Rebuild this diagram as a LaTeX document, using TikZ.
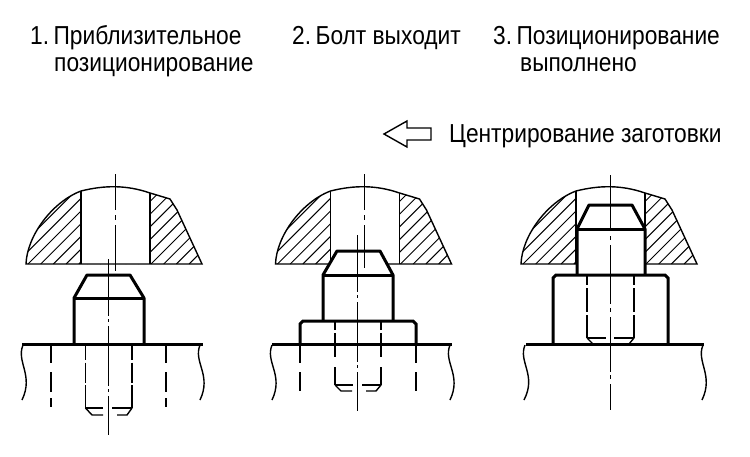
\documentclass[tikz,border=0pt]{standalone}
\usepackage{fontspec}
\setmainfont[FakeStretch=0.875]{Liberation Sans}
\tikzset{
  label text/.style={anchor=base west, inner sep=0pt, font=\fontsize{26}{28}\selectfont},
  thin line/.style={line width=1.4pt},
  thick line/.style={line width=3pt},
  hatch line/.style={line width=1pt},
  outer hidden/.style={line width=1.5pt, dash pattern=on 18pt off 9pt on 20pt off 6pt on 9pt off 100pt},
  axis line/.style={line width=1.4pt},
}
\begin{document}
\begin{tikzpicture}[x=1pt, y=-1pt]
        \useasboundingbox (0,0) rectangle (750,456);

        % Texts
        \node[label text] (stepa) at (30,44) {1.\hspace{-4pt} Приблизительное};
        \node[label text] (stepb) at (54,71) {позиционирование};
        \node[label text] (stepc) at (292,44) {2.\hspace{-4pt} Болт выходит};
        \node[label text] (stepd) at (493,44) {3.\hspace{-4pt} Позиционирование};
        \node[label text] (stepe) at (520,71) {выполнено};
        \node[label text] (centering) at (449,142) {Центрирование заготовки};

        % Hollow arrow
        \draw[thin line] (384,134) -- (407,121) -- (407,128) -- (431,128) -- (431,140) -- (407,140) -- (407,147) -- cycle;

        % Domes with hatching
        \foreach \shift in {0,249.5,495} {
            \begin{scope}[xshift=\shift pt]
                \begin{scope}
                    \clip (26,264) .. controls (27,236) and (52,202) .. (81,191) .. controls (105,185) and (127,185) .. (150,193) -- (170,199) -- (177,210) -- (202,264) -- cycle;
                    \foreach \hx in {2.6,15.3,...,80,87.5,100.2,...,190}
                        \draw[hatch line] (\hx,264) -- (\hx+90,174);
                    \fill[white] (81,180) rectangle (150,264);
                \end{scope}
                \draw[thin line] (26,264) .. controls (27,236) and (52,202) .. (81,191) .. controls (105,185) and (127,185) .. (150,193) -- (170,199) -- (177,210) -- (202,264) -- cycle;
                \draw[thin line] (81,191) -- (81,264);
                \draw[thin line] (150,193) -- (150,264);
            \end{scope}
        }

        % Left: bolt below the bore
        \draw[outer hidden] (51,345) -- (51,407);
        \draw[outer hidden] (166,345) -- (166,407);
        \draw[thin line, dash pattern=on 15pt off 2.5pt on 20pt off 2.5pt on 23pt off 100pt] (85.5,345) -- (85.5,408);
        \draw[thin line, dash pattern=on 15pt off 2.5pt on 20pt off 2.5pt on 23pt off 100pt] (132,345) -- (132,408);
        \draw[thin line] (85.5,408) -- (92,415) -- (103,415) (117,415) -- (127,415) -- (132,408);
        \draw[thin line] (85.5,408) -- (103,408) (112,408) -- (132,408);
        \draw[thick line, line join=round, fill=white] (74,344) -- (74,298) -- (87,275) -- (130,275) -- (144,298) -- (144,344);
        \draw[thick line] (74,298) -- (144,298);
        \draw[thick line] (22,344) -- (203,344);
        \draw[axis line] (23,345) .. controls (16,362) and (34,375) .. (22,400);
        \draw[axis line] (200,345) .. controls (193,362) and (212,375) .. (200,400);

        % Middle: bolt entering the bore
        \draw[outer hidden] (300,345) -- (300,391);
        \draw[outer hidden] (416,345) -- (416,391);
        \draw[thick line, line join=round, fill=white] (323,321) -- (323,275) -- (337,251) -- (380,251) -- (393,275) -- (393,321);
        \draw[thick line] (323,275) -- (393,275);
        \draw[thick line, fill=white] (300,344) -- (300,324) -- (303,321) -- (413,321) -- (416,324) -- (416,344);
        \draw[thin line, dash pattern=on 8pt off 3pt on 24pt off 10pt on 18pt off 100pt] (335,322) -- (335,385);
        \draw[thin line, dash pattern=on 8pt off 3pt on 24pt off 10pt on 18pt off 100pt] (381,322) -- (381,385);
        \draw[thin line] (335,385) -- (341,391) -- (352,391) (366,391) -- (376,391) -- (381,385);
        \draw[thin line] (335,385) -- (353,385) (362,385) -- (381,385);
        \draw[thick line] (272,344) -- (452,344);
        \draw[axis line] (272,345) .. controls (265,362) and (284,375) .. (272,400);
        \draw[axis line] (450,345) .. controls (443,362) and (462,375) .. (450,400);

        % Right: positioning finished
        \draw[thick line, line join=round, fill=white] (577,275) -- (577,229) -- (589,205) -- (632,205) -- (645,229) -- (645,275);
        \draw[thick line] (577,229) -- (645,229);
        \draw[thick line, fill=white] (553,344) -- (553,278) -- (556,275) -- (665,275) -- (668,278) -- (668,344);
        \draw[thin line, dash pattern=on 9pt off 3pt on 24pt off 3pt on 23pt off 100pt] (587,276) -- (587,338);
        \draw[thin line, dash pattern=on 9pt off 3pt on 24pt off 3pt on 23pt off 100pt] (634,276) -- (634,338);
        \draw[thin line] (587,338) -- (606,338) (614,338) -- (634,338);
        \draw[thin line] (587,338) -- (593,344) (634,338) -- (629,344);
        \draw[thick line] (526,344) -- (704,344);
        \draw[axis line] (525,345) .. controls (518,362) and (537,375) .. (524,400);
        \draw[axis line] (703,345) .. controls (696,362) and (714,375) .. (702,400);

        % Centre lines
        \foreach \cx/\ya/\yb/\yc/\yd/\ye in {115.5/174/210/215/225/271, 364.5/174/210/215/225/268} {
            \draw[axis line] (\cx,\ya) -- (\cx,\yb);
            \draw[axis line] (\cx,\yc) -- (\cx,\yc+5);
            \draw[axis line] (\cx,\yd) -- (\cx,\ye);
        }
        \foreach \cx/\ya in {108.7/259, 357.7/235} {
            \draw[axis line] (\cx,\ya) -- (\cx,\ya+57);
            \draw[axis line] (\cx,\ya+60) -- (\cx,\ya+63);
            \draw[axis line] (\cx,\ya+67) -- (\cx,\ya+127);
            \draw[axis line] (\cx,\ya+130) -- (\cx,\ya+133);
            \draw[axis line] (\cx,\ya+137) -- (\cx,\ya+176);
        }
        \draw[axis line] (610.5,175) -- (610.5,231);
        \draw[axis line] (610.5,236) -- (610.5,240);
        \draw[axis line] (610.5,245) -- (610.5,304);
        \draw[axis line] (610.5,308) -- (610.5,312);
        \draw[axis line] (610.5,317) -- (610.5,372);
        \draw[axis line] (610.5,375) -- (610.5,379);
        \draw[axis line] (610.5,384) -- (610.5,410);

    \end{tikzpicture}
\end{document}
